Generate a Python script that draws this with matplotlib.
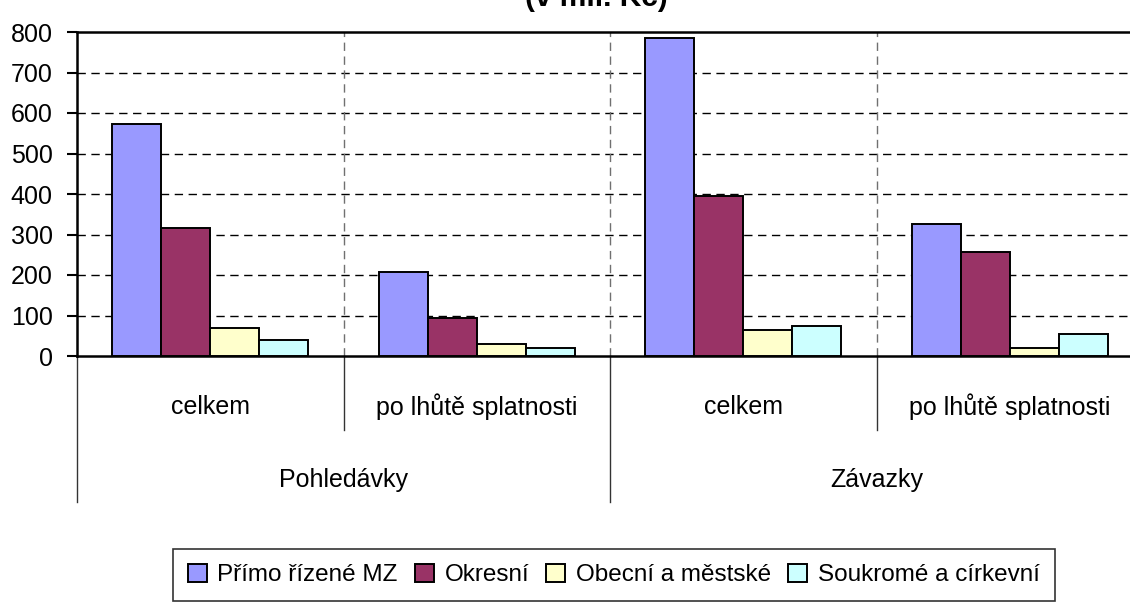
import matplotlib
matplotlib.use("Agg")
import matplotlib.pyplot as plt
import matplotlib.transforms as mtransforms
import numpy as np

plt.rcParams['font.family'] = ['Liberation Sans', 'DejaVu Sans']

# data (v mil. Kč)
subcats = ["celkem", "po lhůtě splatnosti", "celkem", "po lhůtě splatnosti"]
groups = ["Pohledávky", "Závazky"]
series = ["Přímo řízené MZ", "Okresní", "Obecní a městské", "Soukromé a církevní"]
primo = [573, 207, 785, 326]
okresni = [316, 94, 395, 257]
obecni = [69, 30, 64, 20]
soukrome = [40, 20, 74, 54]
colors = ["#9999FF", "#993366", "#FFFFCC", "#CCFFFF"]


def main():
    W, H = 1130, 602
    fig = plt.figure(figsize=(W / 100, H / 100), dpi=100)
    # plot area: x 77..1143 px, y 32..356 px (right edge runs off the image)
    ax = fig.add_axes([77 / W, (H - 356) / H, 1066 / W, 324 / H])

    x = np.arange(len(subcats))
    width = 0.184
    values = [primo, okresni, obecni, soukrome]
    for i, (name, vals) in enumerate(zip(series, values)):
        ax.bar(x + (i - 1.5) * width, vals, width, color=colors[i],
               edgecolor="black", linewidth=1.4, label=name, zorder=3)

    ax.set_xlim(-0.5, len(subcats) - 0.5)
    ax.set_ylim(0, 800)
    ax.set_yticks(range(0, 801, 100))
    ax.tick_params(axis="y", direction="out", length=7.5, width=1.5,
                   labelsize=18, pad=10)
    ax.set_xticks([])

    # gridlines
    for yv in range(100, 800, 100):
        ax.axhline(yv, color="black", lw=1, ls=(0, (6, 4)), zorder=1)
    for xv in np.arange(0.5, len(subcats) - 0.5, 1):
        ax.axvline(xv, color="#707070", lw=1, ls=(0, (6, 4)), zorder=1)

    for s in ["left", "top", "bottom", "right"]:
        ax.spines[s].set_linewidth(1.8)
        ax.spines[s].set_color("black")

    # multi-level category axis
    trans = mtransforms.blended_transform_factory(ax.transData, fig.transFigure)
    y0 = (H - 356) / H
    y1 = (H - 430) / H
    y2 = (H - 502) / H
    for k, xv in enumerate(np.arange(-0.5, len(subcats) + 0.5, 1)):
        yb = y2 if k % 2 == 0 else y1
        ax.plot([xv, xv], [y0, yb], transform=trans, color="#333333",
                lw=1, clip_on=False)
    for xi, lab in zip(x, subcats):
        fig.text(xi, (H - 407) / H, lab, transform=trans, ha="center",
                 va="center", fontsize=18)
    for gi, lab in enumerate(groups):
        fig.text(gi * 2 + 0.5, (H - 480) / H, lab, transform=trans,
                 ha="center", va="center", fontsize=18)

    # title, mostly cut off at the top edge (as in the reference)
    fig.text(596 / W, 1 - 6 / H, "(v mil. Kč)", ha="center", va="baseline",
             fontsize=21.5, fontweight="bold")

    leg = fig.legend(loc="upper left", bbox_to_anchor=(173 / W, 1 - 549 / H),
                     ncol=4, fontsize=17.5, frameon=True, fancybox=False,
                     handlelength=0.78, handleheight=0.78, handletextpad=0.45,
                     columnspacing=0.7, borderpad=0.6, borderaxespad=0)
    leg.get_frame().set_edgecolor("black")
    leg.get_frame().set_linewidth(1.2)

    fig.savefig("out.png", dpi=100)


if __name__ == "__main__":
    main()
